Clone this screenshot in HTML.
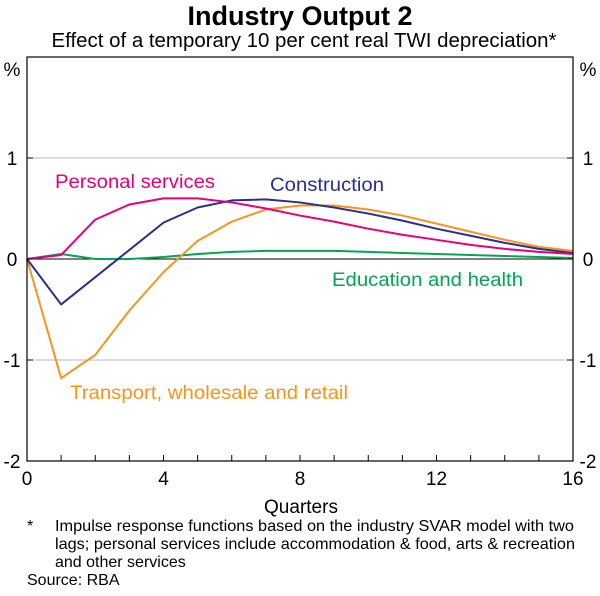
<!DOCTYPE html>
<html><head><meta charset="utf-8"><style>
body{margin:0;background:#fff;font-family:"Liberation Sans",Arial,sans-serif;}
svg text{font-family:"Liberation Sans",Arial,sans-serif;}
</style></head><body>
<svg id="chart" width="600" height="591" xmlns="http://www.w3.org/2000/svg">
<text x="300" y="25" text-anchor="middle" font-size="27" font-weight="bold">Industry Output 2</text>
<text x="304" y="47" text-anchor="middle" font-size="20" textLength="505" lengthAdjust="spacingAndGlyphs">Effect of a temporary 10 per cent real TWI depreciation*</text>
<g id="grid"></g>
<g id="lines"></g>
<rect x="27" y="57" width="546" height="404" fill="none" stroke="#000" stroke-width="1.2"/>
<text x="12" y="76" text-anchor="middle" font-size="19">%</text>
<text x="588" y="76" text-anchor="middle" font-size="19">%</text>
<text x="301" y="513" text-anchor="middle" font-size="19">Quarters</text>
<text x="55" y="188" font-size="19.5" fill="#e5007e" textLength="160" lengthAdjust="spacingAndGlyphs">Personal services</text>
<text x="270" y="191" font-size="19.5" fill="#2b2e8c" textLength="114" lengthAdjust="spacingAndGlyphs">Construction</text>
<text x="332" y="286" font-size="19.5" fill="#00a651" textLength="191" lengthAdjust="spacingAndGlyphs">Education and health</text>
<text x="70" y="399" font-size="19.5" fill="#f7941d" textLength="278" lengthAdjust="spacingAndGlyphs">Transport, wholesale and retail</text>
<text x="27" y="531" font-size="16">*</text>
<text x="55" y="531" font-size="16" textLength="519" lengthAdjust="spacingAndGlyphs">Impulse response functions based on the industry SVAR model with two</text>
<text x="55" y="549" font-size="16" textLength="520" lengthAdjust="spacingAndGlyphs">lags; personal services include accommodation &amp; food, arts &amp; recreation</text>
<text x="55" y="567" font-size="16">and other services</text>
<text x="27" y="585" font-size="16">Source: RBA</text>
</svg>
<script>
const quarters=[0,1,2,3,4,5,6,7,8,9,10,11,12,13,14,15,16];
const personal=[0,0.04,0.39,0.54,0.60,0.60,0.56,0.50,0.43,0.37,0.30,0.24,0.19,0.14,0.10,0.07,0.05];
const construction=[0,-0.45,-0.18,0.09,0.36,0.51,0.58,0.59,0.56,0.51,0.45,0.38,0.30,0.23,0.16,0.10,0.06];
const transport=[0,-1.18,-0.95,-0.51,-0.13,0.18,0.37,0.49,0.53,0.53,0.49,0.43,0.35,0.27,0.19,0.12,0.08];
const education=[0,0.05,0,0,0.02,0.05,0.07,0.08,0.08,0.08,0.07,0.06,0.05,0.04,0.03,0.02,0.01];
const yTicks=[1,0,-1,-2];
const yTickLabels=["1","0","-1","-2"];
const xTicks=[0,4,8,12,16];
const NS="http://www.w3.org/2000/svg";
const X=q=>27+q*(546/16);
const Y=v=>259-v*101;
const grid=document.getElementById('grid'),lines=document.getElementById('lines'),svg=document.getElementById('chart');
function mk(t,a,p){const e=document.createElementNS(NS,t);for(const k in a)e.setAttribute(k,a[k]);p.appendChild(e);return e;}
yTicks.forEach((v,i)=>{
 if(v!==0&&v!==-2){const g=mk('line',{x1:27,x2:573,y1:Y(v),y2:Y(v),stroke:'#bbb','stroke-width':1},grid);
 
 }
 const t1=mk('text',{x:12,y:Y(v)+7,'text-anchor':'middle','font-size':19},svg);t1.textContent=yTickLabels[i];
 
 
 const t2=mk('text',{x:588,y:Y(v)+7,'text-anchor':'middle','font-size':19},svg);t2.textContent=yTickLabels[i];
 
 
 [[27,33],[567,573]].forEach(s=>{const tk=mk('line',{x1:s[0],x2:s[1],y1:Y(v),y2:Y(v),stroke:'#000'},svg);
 
 });
});
const z=mk('line',{x1:27,x2:573,y1:Y(0),y2:Y(0),stroke:'#000','stroke-width':1},grid);


quarters.forEach(q=>{
 const tk=mk('line',{x1:X(q),x2:X(q),y1:455,y2:461,stroke:'#000'},svg);
 
 
});
xTicks.forEach(q=>{const t=mk('text',{x:X(q),y:485,'text-anchor':'middle','font-size':19},svg);t.textContent=q;
 
 });
function line(d,c,n){const p=mk('polyline',{points:d.map((v,i)=>X(quarters[i])+','+Y(v)).join(' '),fill:'none',stroke:c,'stroke-width':2,'stroke-linejoin':'round'},lines);
 
 }
line(education,'#00a651','series-education-health');
line(transport,'#f7941d','series-transport');
line(construction,'#2b2e8c','series-construction');
line(personal,'#e5007e','series-personal-services');
</script>
</body></html>
